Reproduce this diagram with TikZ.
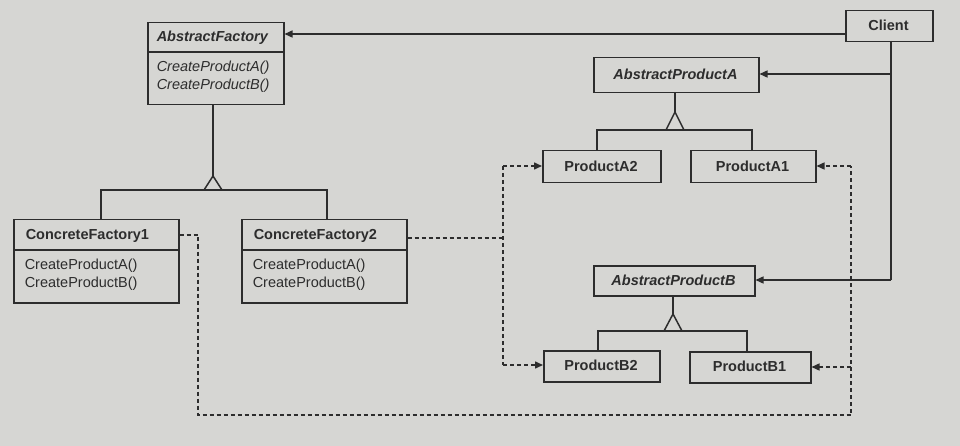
\documentclass[tikz,border=0pt]{standalone}
\usepackage{fontspec}
\setmainfont{Liberation Sans}
\usetikzlibrary{arrows.meta}
\definecolor{paper}{RGB}{214,214,211}
\definecolor{ink}{RGB}{45,45,45}
\begin{document}
\begin{tikzpicture}[x=1pt,y=-1pt,line width=1.5pt,
  every node/.style={text=ink},
  classbox/.style={draw=ink,line width=1.5pt,rectangle,anchor=north west,inner sep=0pt},
  lbl/.style={inner sep=0pt,font=\fontsize{14.5}{17}\selectfont},
  sep/.style={draw=ink,line width=1.5pt},
  gen/.style={draw=ink,line width=1.5pt,line join=miter},
  assoc/.style={draw=ink,line width=1.5pt,-{Triangle[length=8pt,width=7pt]}},
  plain/.style={draw=ink,line width=1.5pt},
  dep/.style={draw=ink,line width=1.5pt,dash pattern=on 4pt off 3pt},
  deparr/.style={dep,-{Triangle[length=8pt,width=7pt]}}]
\path[fill=paper] (0,0) rectangle (960,446);
\useasboundingbox (0,0) rectangle (960,446);

% ---- Client
\node[classbox,minimum width=87pt,minimum height=31pt] (client) at (845,10) {};
\node[lbl] (clientt) at (888.5,25.5) {\textbf{Client}};

% ---- AbstractFactory
\node[classbox,minimum width=136pt,minimum height=82pt] (af) at (147,22) {};
\draw[sep] (af.west |- 0,52) -- (af.east |- 0,52);
\node[lbl,anchor=west] (aft) at (156,38) {\textbf{\textit{AbstractFactory}}};
\node[lbl,anchor=west] (afm1) at (156,68) {\textit{CreateProductA()}};
\node[lbl,anchor=west] (afm2) at (156,86) {\textit{CreateProductB()}};

% ---- ConcreteFactory1
\node[classbox,minimum width=165pt,minimum height=83pt] (cf1) at (13,219) {};
\draw[sep] (cf1.west |- 0,250) -- (cf1.east |- 0,250);
\node[lbl,anchor=west] (cf1t) at (25,236) {\textbf{ConcreteFactory1}};
\node[lbl,anchor=west] (cf1m1) at (24,266) {CreateProductA()};
\node[lbl,anchor=west] (cf1m2) at (24,284) {CreateProductB()};

% ---- ConcreteFactory2
\node[classbox,minimum width=165pt,minimum height=83pt] (cf2) at (241,219) {};
\draw[sep] (cf2.west |- 0,250) -- (cf2.east |- 0,250);
\node[lbl,anchor=west] (cf2t) at (253,236) {\textbf{ConcreteFactory2}};
\node[lbl,anchor=west] (cf2m1) at (252,266) {CreateProductA()};
\node[lbl,anchor=west] (cf2m2) at (252,284) {CreateProductB()};

% ---- Products A
\node[classbox,minimum width=165pt,minimum height=35pt] (apa) at (593,57) {};
\node[lbl] (apat) at (675.5,74.5) {\textbf{\textit{AbstractProductA}}};
\node[classbox,minimum width=118pt,minimum height=32pt] (pa2) at (542,150) {};
\node[lbl] (pa2t) at (601,166) {\textbf{ProductA2}};
\node[classbox,minimum width=125pt,minimum height=32pt] (pa1) at (690,150) {};
\node[lbl] (pa1t) at (752.5,166) {\textbf{ProductA1}};

% ---- Products B
\node[classbox,minimum width=161pt,minimum height=30pt] (apb) at (593,265) {};
\node[lbl] (apbt) at (673.5,280) {\textbf{\textit{AbstractProductB}}};
\node[classbox,minimum width=116pt,minimum height=31pt] (pb2) at (543,350) {};
\node[lbl] (pb2t) at (601,365.5) {\textbf{ProductB2}};
\node[classbox,minimum width=121pt,minimum height=31pt] (pb1) at (689,351) {};
\node[lbl] (pb1t) at (749.5,366.5) {\textbf{ProductB1}};

% ---- inheritance: AbstractFactory
\coordinate (afapex) at (213,176);
\draw[plain] (af.south -| afapex) -- (afapex);
\draw[gen] (afapex) -- (204,190) -- (222,190) -- cycle;
\draw[plain] (cf1.north -| 101,0) |- (afapex |- 0,190) -| (cf2.north -| 327,0);

% ---- inheritance: AbstractProductA
\coordinate (paapex) at (675,112);
\draw[plain] (apa.south -| paapex) -- (paapex);
\draw[gen] (paapex) -- (666,130) -- (684,130) -- cycle;
\draw[plain] (pa2.north -| 597,0) |- (paapex |- 0,130) -| (pa1.north -| 752,0);

% ---- inheritance: AbstractProductB
\coordinate (pbapex) at (673,314);
\draw[plain] (apb.south -| pbapex) -- (pbapex);
\draw[gen] (pbapex) -- (664,331) -- (682,331) -- cycle;
\draw[plain] (pb2.north -| 598,0) |- (pbapex |- 0,331) -| (pb1.north -| 747,0);

% ---- Client associations
\coordinate (cl) at (845,34);
\draw[assoc] (cl) -- (af.east |- cl);
\coordinate (trunk) at (891,41);
\coordinate (tA) at (891,74);
\coordinate (tB) at (891,280);
\draw[plain] (trunk) -- (tB);
\draw[assoc] (tA) -- (apa.east |- tA);
\draw[assoc] (tB) -- (apb.east |- tB);

% ---- dependencies of ConcreteFactory1
\coordinate (d1a) at (198,235);
\coordinate (d1b) at (198,415);
\coordinate (d1c) at (851,415);
\coordinate (d1d) at (851,166);
\draw[dep] (cf1.east |- d1a) -- (d1a) -- (d1b) -- (d1c) -- (d1d);
\draw[deparr] (d1d) -- (pa1.east |- d1d);
\coordinate (d1e) at (851,367);
\draw[deparr] (d1e) -- (pb1.east |- d1e);

% ---- dependencies of ConcreteFactory2
\coordinate (d2a) at (503,238);
\coordinate (d2t) at (503,166);
\coordinate (d2b) at (503,365);
\draw[dep] (cf2.east |- d2a) -- (d2a);
\draw[dep] (d2t) -- (d2b);
\draw[deparr] (d2t) -- (pa2.west |- d2t);
\draw[deparr] (d2b) -- (pb2.west |- d2b);
\end{tikzpicture}
\end{document}
